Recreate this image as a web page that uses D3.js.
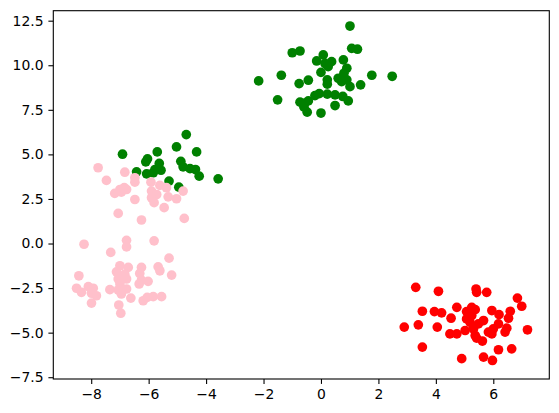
<!DOCTYPE html>
<html>
<head>
<meta charset="utf-8">
<script src="https://cdn.jsdelivr.net/npm/d3@7"></script>
<style>
  body { margin: 0; background: #fff; }
  svg { display: block; }
  .tick text { font-family: "DejaVu Sans", sans-serif; font-size: 13.9px; fill: #000; }
</style>
</head>
<body>
<div class="chart"></div>
<script>
// cluster points [x, y]
var greenPoints = [
  [1.01, 12.2], [-1.0, 10.7], [-0.73, 10.8], [1.07, 10.95], [1.27, 10.9],
  [0.08, 10.58], [-0.15, 10.24], [0.14, 10.1], [0.37, 10.2], [0.78, 10.3],
  [0.25, 9.92], [0.9, 9.83], [0.0, 9.6], [-2.17, 9.12], [-1.38, 9.44],
  [1.77, 9.44], [2.48, 9.38], [-0.44, 9.16], [-0.76, 8.97], [0.22, 9.18],
  [0.22, 8.94], [0.6, 9.27], [0.72, 9.08], [0.9, 9.18], [1.01, 8.8],
  [1.38, 8.9], [0.8, 9.55], [-0.21, 8.3], [-0.06, 8.41], [0.22, 8.38],
  [0.49, 8.34], [0.76, 8.25], [0.95, 8.0], [-1.51, 8.06], [-0.73, 7.93],
  [-0.56, 7.88], [-0.44, 8.0], [0.49, 7.74], [-0.48, 7.37], [0.0, 7.32],
  [-0.59, 7.65],
  [-4.69, 6.11], [-5.03, 5.42], [-4.33, 5.14], [-5.7, 5.14], [-6.91, 5.01],
  [-6.04, 4.75], [-6.1, 4.58], [-5.63, 4.49], [-4.88, 4.61], [-4.8, 4.3],
  [-4.56, 4.2], [-4.37, 4.15], [-4.24, 3.78], [-3.58, 3.63], [-5.57, 4.11],
  [-5.78, 4.15], [-6.42, 4.02], [-6.07, 3.91], [-5.84, 3.97], [-5.29, 3.5],
  [-4.95, 3.16]
];
var pinkPoints = [
  [-7.76, 4.25], [-6.83, 4.0], [-7.47, 3.54], [-6.48, 3.69], [-6.48, 3.44],
  [-5.92, 3.44], [-5.61, 3.26], [-6.85, 3.13], [-7.0, 3.03], [-6.77, 3.03],
  [-7.18, 2.81], [-6.95, 2.88], [-5.9, 2.94], [-5.72, 2.75], [-5.9, 2.57],
  [-5.38, 3.13], [-4.8, 2.94], [-5.32, 2.62], [-5.03, 2.51], [-6.48, 2.47],
  [-5.81, 2.29], [-5.46, 2.01], [-7.06, 1.69], [-6.25, 1.32], [-4.76, 1.41],
  [-8.25, -0.04], [-6.77, 0.18], [-6.77, -0.19], [-5.81, 0.15], [-7.32, -0.5],
  [-5.29, -0.82], [-7.0, -1.25], [-6.71, -1.34], [-6.25, -1.34], [-5.67, -1.31],
  [-5.61, -1.53], [-7.12, -1.59], [-6.83, -1.72], [-6.31, -1.68], [-5.2, -1.77],
  [-8.43, -1.81], [-7.06, -1.99], [-6.77, -1.99], [-6.25, -2.05], [-6.02, -2.12],
  [-6.33, -2.27], [-7.0, -2.27], [-8.51, -2.51], [-8.1, -2.42], [-7.93, -2.51],
  [-8.34, -2.74], [-7.35, -2.59], [-7.06, -2.61], [-6.77, -2.55], [-7.99, -2.79],
  [-7.82, -2.93], [-6.95, -2.83], [-6.62, -3.06], [-6.19, -3.21], [-6.05, -3.02],
  [-5.84, -2.98], [-5.55, -2.98], [-7.99, -3.34], [-7.04, -3.45], [-6.97, -3.91]
];
var redPoints = [
  [3.3, -2.46], [4.09, -2.68], [5.4, -2.55], [5.42, -2.74], [5.77, -2.74],
  [6.84, -3.06], [6.99, -3.52], [4.73, -3.58], [3.53, -3.8], [3.95, -3.82],
  [4.2, -3.89], [5.07, -3.82], [5.37, -3.71], [5.95, -3.76], [6.2, -3.99],
  [6.59, -3.8], [6.53, -4.19], [4.53, -4.19], [5.07, -4.23], [5.25, -4.04],
  [2.9, -4.69], [3.39, -4.56], [4.05, -4.69], [5.48, -4.51], [5.66, -4.32],
  [6.18, -4.51], [6.0, -4.79], [6.47, -4.75], [7.19, -4.84], [4.49, -5.07],
  [4.73, -5.07], [5.02, -4.88], [5.31, -4.79], [5.37, -5.16], [5.83, -4.97],
  [5.95, -5.07], [6.41, -4.97], [5.42, -5.31], [5.62, -5.47], [3.53, -5.81],
  [6.18, -5.96], [6.64, -5.91], [4.9, -6.46], [5.66, -6.37], [5.97, -6.56],
  [5.19, -4.42], [5.25, -3.58]
];
var xTicks = [-8, -6, -4, -2, 0, 2, 4, 6];
var yTicks = [-7.5, -5.0, -2.5, 0.0, 2.5, 5.0, 7.5, 10.0, 12.5];

var margin = {top: 10.7, right: 9.7, bottom: 34, left: 53.3},
  width = 559 - margin.left - margin.right,
  height = 413 - margin.top - margin.bottom;

var svg = d3.select('.chart').append("svg")
  .attr("width", 559)
  .attr("height", 413);
var g = svg.append("g")
  .attr("transform", "translate(" + margin.left + "," + margin.top + ")");

var x = d3.scaleLinear().domain([-9.32, 7.95]).range([0, width]);
var y = d3.scaleLinear().domain([-7.6, 13.06]).range([height, 0]);

function minus(s) { return s.replace("-", "\u2212"); }

var xAxis = g.append("g")
  .attr("transform", "translate(0," + height + ")")
  .call(d3.axisBottom(x).tickValues(xTicks).tickSize(4.9).tickPadding(4.9)
    .tickFormat(function(d) { return minus(d3.format("d")(d)); }));
var yAxis = g.append("g")
  .call(d3.axisLeft(y).tickValues(yTicks).tickSize(4.9).tickPadding(4.9)
    .tickFormat(function(d) { return minus(d3.format(".1f")(d)); }));
[xAxis, yAxis].forEach(function(a) {
  a.select(".domain").remove();
  a.selectAll(".tick line").attr("stroke", "#000").attr("stroke-width", 1.1);
});
xAxis.selectAll(".tick text").attr("dy", "0.71em");

// marker face plus a 1pt edge of the same colour
function drawPoints(data, color) {
  g.append("g").selectAll("circle")
    .data(data)
    .enter().append("circle")
    .attr("cx", function(d) { return x(d[0]); })
    .attr("cy", function(d) { return y(d[1]); })
    .attr("r", 4.85)
    .style("fill", color);
}
drawPoints(greenPoints, "green");
drawPoints(pinkPoints, "pink");
drawPoints(redPoints, "red");

// frame
g.append("rect")
  .attr("width", width)
  .attr("height", height)
  .attr("fill", "none")
  .attr("stroke", "#000")
  .attr("stroke-width", 1.1);
</script>
</body>
</html>
